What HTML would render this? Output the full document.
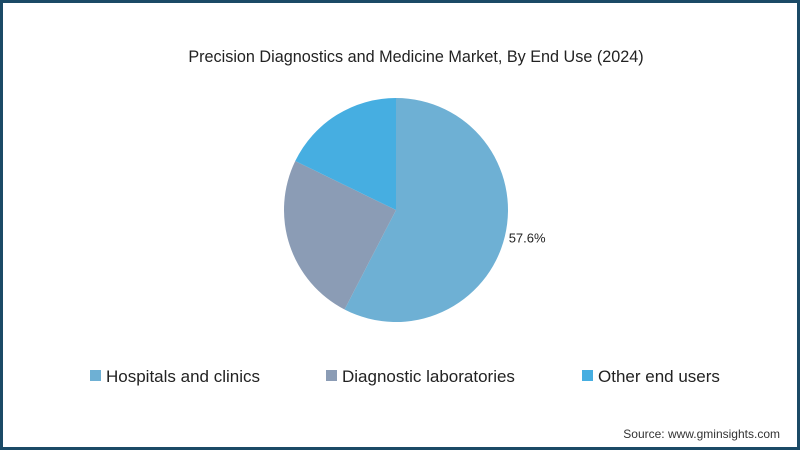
<!DOCTYPE html>
<html><head><meta charset="utf-8"><style>
body{margin:0;width:800px;height:450px;overflow:hidden;background:#fff;font-family:"Liberation Sans",sans-serif}
#frame{position:absolute;left:0;top:0;width:794px;height:444px;border:3px solid #1b4a66;background:#fff}
</style></head><body>
<div id="frame"></div>
<svg id="chart" width="800" height="450" style="position:absolute;left:0;top:0">
<text x="416" y="62" text-anchor="middle" font-size="16.2" fill="#222">Precision Diagnostics and Medicine Market, By End Use (2024)</text>
<g id="slices"></g>
<g id="legend"></g>
<text x="780" y="438" text-anchor="end" font-size="12" fill="#333">Source: www.gminsights.com</text>
</svg>
<script>
const categories=["Hospitals and clinics","Diagnostic laboratories","Other end users"];
const values=[57.6,24.6,17.8];
const colors=["#6eb0d4","#8b9cb5","#46aee1"];
const labelShown=[true,false,false];
const cx=396,cy=210,r=112;
const ns="http://www.w3.org/2000/svg";
const g=document.getElementById('slices');
const total=values.reduce((a,b)=>a+b,0);
let a0=0;
function pt(a,rr){return [cx+rr*Math.sin(a),cy-rr*Math.cos(a)];}
values.forEach((v,i)=>{
  const a1=a0+v/total*2*Math.PI;
  const p0=pt(a0,r),p1=pt(a1,r);
  const large=(a1-a0)>Math.PI?1:0;
  const p=document.createElementNS(ns,'path');
  p.setAttribute('d',`M${cx},${cy}L${p0[0]},${p0[1]}A${r},${r} 0 ${large} 1 ${p1[0]},${p1[1]}Z`);
  p.setAttribute('fill',colors[i]);
  
  
  g.appendChild(p);
  if(labelShown[i]){
    const mid=(a0+a1)/2;
    const lp=pt(mid,r+4);
    const t=document.createElementNS(ns,'text');
    t.setAttribute('x',lp[0]+(Math.sin(mid)>=0?0:-4));
    t.setAttribute('y',lp[1]+5);
    t.setAttribute('font-size','13');
    t.setAttribute('fill','#222');
    t.setAttribute('text-anchor',Math.sin(mid)>=0?'start':'end');
    t.textContent=v.toFixed(1)+'%';
    
    
    g.appendChild(t);
  }
  a0=a1;
});
const lg=document.getElementById('legend');
const lx=[90,326,582];
categories.forEach((c,i)=>{
  const gg=document.createElementNS(ns,'g');
  
  
  const s=document.createElementNS(ns,'rect');
  s.setAttribute('x',lx[i]);s.setAttribute('y',370);s.setAttribute('width',11);s.setAttribute('height',11);
  s.setAttribute('fill',colors[i]);
  const t=document.createElementNS(ns,'text');
  t.setAttribute('x',lx[i]+16);t.setAttribute('y',382);t.setAttribute('font-size','17');t.setAttribute('fill','#222');
  t.textContent=c;
  gg.appendChild(s);gg.appendChild(t);lg.appendChild(gg);
});
</script>
</body></html>
